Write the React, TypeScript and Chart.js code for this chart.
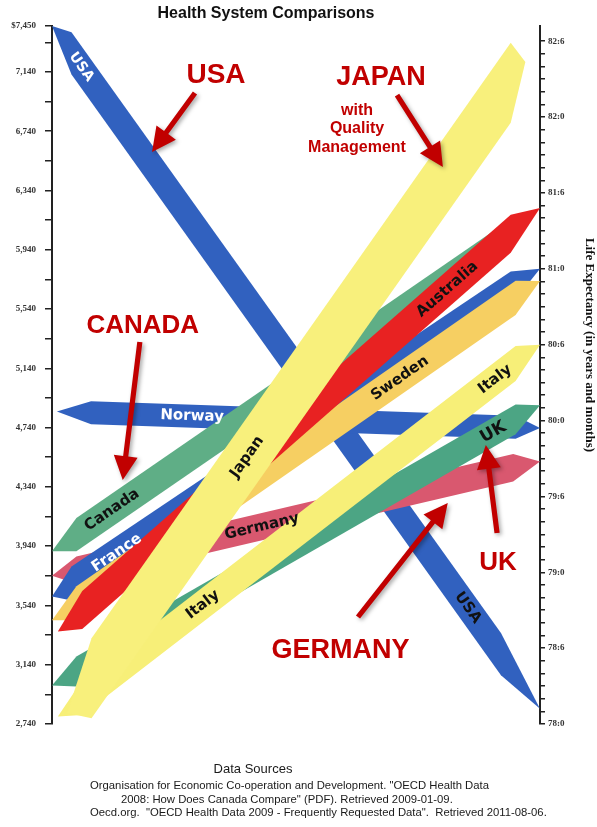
import React, { useEffect, useRef } from 'react';
import { Chart, registerables } from 'chart.js';

Chart.register(...registerables);

// ---------- data ----------
const countries = ['USA', 'Germany', 'Norway', 'Canada', 'France', 'Sweden', 'Australia', 'UK', 'Italy', 'Japan'];
// health spending per capita (US$), read where each ribbon meets the left axis
const spending = [7450, 3740, 4850, 3905, 3600, 3440, 3330, 3000, 2760, 2670];
// life expectancy (years), read where each ribbon meets the right axis
const lifeExpectancy = [78.1, 79.73, 79.95, 81.35, 81.0, 80.92, 81.4, 80.1, 80.5, 82.5];

const spendingTicks = [2740, 2940, 3140, 3340, 3540, 3740, 3940, 4140, 4340, 4540, 4740, 4940, 5140,
  5340, 5540, 5740, 5940, 6140, 6340, 6540, 6740, 6940, 7140, 7340, 7450];
const spendingLabelStep = 400;
const lifeMonthsCount = 54; // 78:0 .. 82:6 monthly ticks
const lifeLabelStep = 6;

const SPEND_MIN = 2740;
const SPEND_MAX = 7450;
const LIFE_MIN = 78.0;
const LIFE_MAX = 82.6;

// ---------- styles (ribbon shapes) ----------
const ribbonStyles = [
  { color: '#3161bf', thick: 285, x0: 0, x1: 1, tipL: 0.04, tipR: 0.08 }, // USA
  { color: '#d9586f', thick: 185, x0: 0, x1: 1, tipL: 0.05, tipR: 0.055 }, // Germany
  { color: '#3161bf', thick: 155, x0: 0.01, x1: 1, tipL: 0.07, tipR: 0.05 }, // Norway
  { color: '#5fae86', thick: 225, x0: 0, x1: 0.94, tipL: 0.05, tipR: 0.04 }, // Canada
  { color: '#3161bf', thick: 230, x0: 0, x1: 1, tipL: 0.04, tipR: 0.06 }, // France
  { color: '#f6cf62', thick: 230, x0: 0, x1: 1, tipL: 0.05, tipR: 0.05 }, // Sweden
  { color: '#e82222', thick: 256, x0: 0.012, x1: 1, tipL: 0.05, tipR: 0.06 }, // Australia
  { color: '#4ca584', thick: 202, x0: 0, x1: 1, tipL: 0.05, tipR: 0.05 }, // UK
  { color: '#f7ef78', thick: 235, x0: 0.012, x1: 1, tipL: 0.05, tipR: 0.05 }, // Italy
  { color: '#f8f07c', thick: 540, x0: 0.031, x1: 0.97, tipL: 0.05, tipR: 0.03 }, // Japan
];

const ribbonLabels = [
  { i: 0, x: 0.06, text: 'USA', color: '#ffffff', size: 14 },
  { i: 0, x: 0.852, text: 'USA', color: '#111111', size: 15 },
  { i: 2, x: 0.287, text: 'Norway', color: '#ffffff', size: 15 },
  { i: 3, x: 0.123, text: 'Canada', color: '#111111', size: 15 },
  { i: 4, x: 0.133, text: 'France', color: '#ffffff', size: 15 },
  { i: 9, x: 0.4, text: 'Japan', color: '#111111', size: 15 },
  { i: 1, x: 0.43, text: 'Germany', color: '#111111', size: 15 },
  { i: 5, x: 0.713, text: 'Sweden', color: '#111111', size: 15 },
  { i: 6, x: 0.81, text: 'Australia', color: '#111111', size: 15 },
  { i: 8, x: 0.309, text: 'Italy', color: '#111111', size: 15 },
  { i: 8, x: 0.908, text: 'Italy', color: '#111111', size: 15 },
  { i: 7, x: 0.904, text: 'UK', color: '#111111', size: 17 },
];

// red callouts, positioned in chart units (x: 0..1 across, y: spending axis)
const callouts = [
  { text: 'USA', x: 0.336, y: 7065, size: 28 },
  { text: 'JAPAN', x: 0.674, y: 7052, size: 27 },
  { text: 'with', x: 0.625, y: 6849, size: 16 },
  { text: 'Quality', x: 0.625, y: 6728, size: 16 },
  { text: 'Management', x: 0.625, y: 6600, size: 16 },
  { text: 'CANADA', x: 0.186, y: 5378, size: 26 },
  { text: 'UK', x: 0.914, y: 3782, size: 26 },
  { text: 'GERMANY', x: 0.591, y: 3185, size: 27 },
];
const calloutArrows = [
  { x1: 0.293, y1: 6998, x2: 0.205, y2: 6600 },
  { x1: 0.707, y1: 6984, x2: 0.801, y2: 6498 },
  { x1: 0.180, y1: 5318, x2: 0.145, y2: 4386 },
  { x1: 0.912, y1: 4029, x2: 0.889, y2: 4623 },
  { x1: 0.627, y1: 3462, x2: 0.811, y2: 4231 },
];

const titleText = 'Health System Comparisons';
const rightTitle = 'Life Expectancy (in years and months)';
const sourceLines = [
  'Organisation for Economic Co-operation and Development. "OECD Health Data',
  '2008: How Does Canada Compare" (PDF). Retrieved 2009-01-09.',
  'Oecd.org.  "OECD Health Data 2009 - Frequently Requested Data".  Retrieved 2011-08-06.',
];

// ---------- helpers ----------
function lifeToSpend(l: number) {
  return SPEND_MIN + ((l - LIFE_MIN) / (LIFE_MAX - LIFE_MIN)) * (SPEND_MAX - SPEND_MIN);
}

function ribbonPolygon(i: number) {
  const s = spending[i];
  const e = lifeToSpend(lifeExpectancy[i]);
  const st = ribbonStyles[i];
  const c = (x: number) => s + (e - s) * x;
  const h = st.thick / 2;
  const a = st.x0;
  const b = st.x1;
  return [
    { x: a, y: c(a) },
    { x: a + st.tipL, y: c(a + st.tipL) + h },
    { x: b - st.tipR, y: c(b - st.tipR) + h },
    { x: b, y: c(b) },
    { x: b - st.tipR, y: c(b - st.tipR) - h },
    { x: a + st.tipL, y: c(a + st.tipL) - h },
    { x: a, y: c(a) },
  ];
}

function fmtThousands(v: number) {
  const s = String(Math.round(v));
  return s.length > 3 ? s.slice(0, s.length - 3) + ',' + s.slice(s.length - 3) : s;
}

const decorPlugin = {
  id: 'decor',
  afterDraw(chart: any) {
    const ctx = chart.ctx;
    const xs = chart.scales.x;
    const yL = chart.scales.yL;
    const px = (x: number) => xs.getPixelForValue(x);
    const py = (v: number) => yL.getPixelForValue(v);

    // ribbon labels
    for (const lab of ribbonLabels) {
      const s = spending[lab.i];
      const e = lifeToSpend(lifeExpectancy[lab.i]);
      const v = s + (e - s) * lab.x;
      const ang = Math.atan2(py(e) - py(s), px(1) - px(0));
      ctx.save();
      ctx.translate(px(lab.x), py(v));
      ctx.rotate(ang);
      ctx.font = `bold ${lab.size}px "DejaVu Sans", sans-serif`;
      ctx.fillStyle = lab.color;
      ctx.textAlign = 'center';
      ctx.textBaseline = 'middle';
      ctx.fillText(lab.text, 0, 0);
      ctx.restore();
    }

    // arrows
    const red = '#c10000';
    for (const ar of calloutArrows) {
      const x1 = px(ar.x1), y1 = py(ar.y1), x2 = px(ar.x2), y2 = py(ar.y2);
      const ang = Math.atan2(y2 - y1, x2 - x1);
      const len = Math.hypot(x2 - x1, y2 - y1);
      const headL = 24, headW = 12, shaft = 2.6;
      ctx.save();
      ctx.translate(x1, y1);
      ctx.rotate(ang);
      ctx.shadowColor = 'rgba(0,0,0,0.35)';
      ctx.shadowBlur = 4;
      ctx.shadowOffsetX = 2;
      ctx.shadowOffsetY = 2;
      ctx.fillStyle = red;
      ctx.beginPath();
      ctx.moveTo(0, -shaft);
      ctx.lineTo(len - headL, -shaft);
      ctx.lineTo(len - headL, -headW);
      ctx.lineTo(len, 0);
      ctx.lineTo(len - headL, headW);
      ctx.lineTo(len - headL, shaft);
      ctx.lineTo(0, shaft);
      ctx.closePath();
      ctx.fill();
      ctx.restore();
    }

    // callout texts
    for (const c of callouts) {
      ctx.save();
      ctx.font = `bold ${c.size}px "Liberation Sans", Arial, sans-serif`;
      ctx.fillStyle = red;
      ctx.textAlign = 'center';
      ctx.textBaseline = 'alphabetic';
      ctx.fillText(c.text, px(c.x), py(c.y));
      ctx.restore();
    }

    // title
    ctx.save();
    ctx.fillStyle = '#111';
    ctx.font = 'bold 16px "Liberation Sans", Arial, sans-serif';
    ctx.textAlign = 'center';
    ctx.textBaseline = 'alphabetic';
    ctx.fillText(titleText, 266, 18);

    // right axis title
    ctx.save();
    ctx.translate(589, 345);
    ctx.rotate(Math.PI / 2);
    ctx.font = 'bold 13px "Liberation Serif", serif';
    ctx.textBaseline = 'middle';
    ctx.fillText(rightTitle, 0, 0);
    ctx.restore();

    // sources
    ctx.fillStyle = '#1a1a1a';
    ctx.font = '13px "Liberation Sans", Arial, sans-serif';
    ctx.fillText('Data Sources', 253, 773);
    ctx.font = '11.3px "Liberation Sans", Arial, sans-serif';
    ctx.textAlign = 'left';
    ctx.fillText(sourceLines[0], 90, 789);
    ctx.fillText(sourceLines[1], 121, 803);
    ctx.fillText(sourceLines[2], 90, 816);
    ctx.restore();
  },
};

export default function App() {
  const ref = useRef<HTMLCanvasElement | null>(null);
  useEffect(() => {
    if (!ref.current) return;
    const n = countries.length;
    const datasets = countries.map((name, i) => ({
      label: name,
      data: ribbonPolygon(i),
      yAxisID: 'yL',
      xAxisID: 'x',
      backgroundColor: ribbonStyles[i].color,
      borderColor: 'rgba(0,0,0,0)',
      borderWidth: 0,
      pointRadius: 0,
      pointHoverRadius: 0,
      tension: 0,
      fill: 'shape',
      order: n - i,
    }));
    const chart = new Chart(ref.current, {
      type: 'line',
      data: { datasets },
      options: {
        animation: false,
        responsive: false,
        devicePixelRatio: 1,
        events: [],
        layout: { padding: { top: 26, bottom: 103, left: 0, right: 0 } },
        plugins: { legend: { display: false }, tooltip: { enabled: false }, title: { display: false } },
        scales: {
          x: { type: 'linear', min: 0, max: 1, display: false },
          yL: {
            type: 'linear',
            position: 'left',
            min: SPEND_MIN,
            max: SPEND_MAX,
            afterBuildTicks: (s: any) => {
              s.ticks = spendingTicks.map((v) => ({ value: v }));
            },
            afterFit: (s: any) => {
              s.width = 52;
            },
            ticks: {
              autoSkip: false,
              padding: 9,
              color: '#333',
              font: { family: '"Liberation Serif", serif', size: 9, weight: 'bold' },
              callback: (v: any) => {
                const val = Number(v);
                if (val === SPEND_MAX) return '$' + fmtThousands(val);
                if ((val - SPEND_MIN) % spendingLabelStep === 0) return fmtThousands(val);
                return '';
              },
            },
            grid: { drawOnChartArea: false, drawTicks: true, tickLength: 7, color: '#222', lineWidth: 1.5 },
            border: { display: true, color: '#222', width: 2 },
          },
          yR: {
            type: 'linear',
            position: 'right',
            min: LIFE_MIN,
            max: LIFE_MAX,
            afterBuildTicks: (s: any) => {
              const t = [];
              for (let m = 0; m <= lifeMonthsCount; m++) t.push({ value: LIFE_MIN + m / 12 });
              s.ticks = t;
            },
            afterFit: (s: any) => {
              s.width = 57;
            },
            ticks: {
              autoSkip: false,
              padding: 3,
              color: '#333',
              font: { family: '"Liberation Serif", serif', size: 9, weight: 'bold' },
              callback: (_v: any, idx: number) => {
                if (idx % lifeLabelStep !== 0) return '';
                return `${Math.floor(LIFE_MIN) + Math.floor(idx / 12)}:${idx % 12}`;
              },
            },
            grid: { drawOnChartArea: false, drawTicks: true, tickLength: 5, color: '#222', lineWidth: 1.5 },
            border: { display: true, color: '#222', width: 2 },
          },
        },
      },
      plugins: [decorPlugin],
    } as any);
    return () => chart.destroy();
  }, []);
  return (
    <div style={{ position: 'absolute', left: 0, top: 0, width: 597, height: 827, background: '#fff' }}>
      <canvas ref={ref} width={597} height={827} style={{ display: 'block' }} />
    </div>
  );
}
